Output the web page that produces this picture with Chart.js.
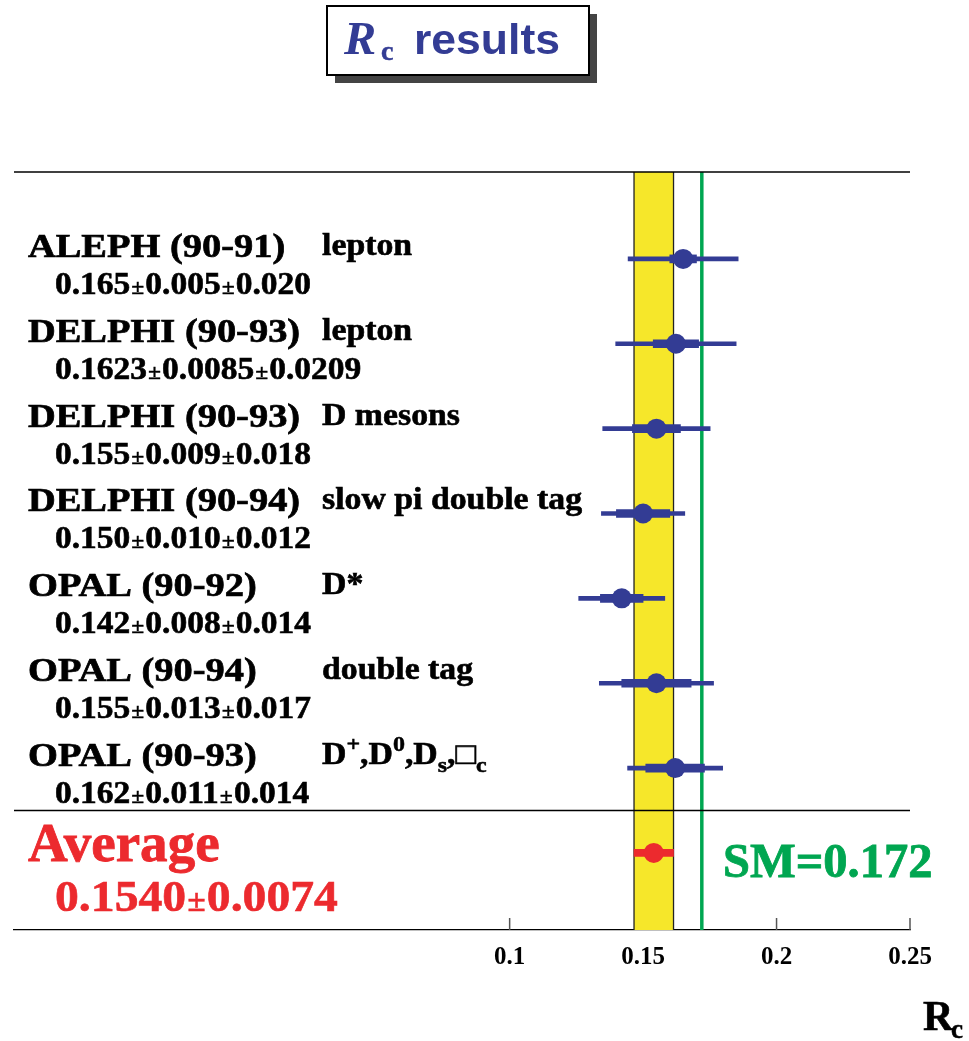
<!DOCTYPE html>
<html>
<head>
<meta charset="utf-8">
<title>Rc results</title>
<script src="https://cdn.jsdelivr.net/npm/chart.js@4"></script>
<style>
  html, body { margin: 0; padding: 0; background: #fff; }
  #wrap { width: 969px; height: 1041px; }
</style>
</head>
<body>
<div id="wrap"><canvas id="rcChart" width="969" height="1041"></canvas></div>
<script>
// measurements, top to bottom
const experiments = ["ALEPH (90-91)", "DELPHI (90-93)", "DELPHI (90-93)", "DELPHI (90-94)",
                     "OPAL (90-92)", "OPAL (90-94)", "OPAL (90-93)"];
const methods = ["lepton", "lepton", "D mesons", "slow pi double tag", "D*", "double tag",
                 "D^{+},D^{0},D_{s},□_{c}"];
const rcValues   = [0.165, 0.1623, 0.155, 0.150, 0.142, 0.155, 0.162];
const statErrors = [0.005, 0.0085, 0.009, 0.010, 0.008, 0.013, 0.011];
const systErrors = [0.020, 0.0209, 0.018, 0.012, 0.014, 0.017, 0.014];
const resultTexts = ["0.165±0.005±0.020", "0.1623±0.0085±0.0209", "0.155±0.009±0.018",
                     "0.150±0.010±0.012", "0.142±0.008±0.014", "0.155±0.013±0.017",
                     "0.162±0.011±0.014"];

const averageValue = 0.1540;
const averageError = 0.0074;
const averageText = "0.1540±0.0074";
const smValue = 0.172;
const xTicks = [0.1, 0.15, 0.2, 0.25];

const NAVY = "#333c94";
const RED = "#ec2a2e";
const GREEN = "#00a651";
const YELLOW = "#f6e72a";
const SERIF = "'Liberation Serif', 'Times New Roman', serif";
const SANS = "'Liberation Sans', Arial, sans-serif";

const rows = experiments.map((e, i) => i + 1);
const avgRow = experiments.length + 1;

// total error = stat and syst in quadrature
const totalBars = rcValues.map((v, i) => {
  const t = Math.hypot(statErrors[i], systErrors[i]);
  return { x: [v - t, v + t], y: rows[i] };
});
const statBars = rcValues.map((v, i) => ({ x: [v - statErrors[i], v + statErrors[i]], y: rows[i] }));
const points = rcValues.map((v, i) => ({ x: v, y: rows[i] }));

function drawText(ctx, s, x, y, font, color, sx, heavy) {
  ctx.save();
  ctx.font = font;
  ctx.fillStyle = color;
  ctx.textBaseline = "alphabetic";
  ctx.translate(x, y);
  ctx.scale(sx || 1, 1);
  ctx.fillText(s, 0, 0);
  if (heavy) {
    ctx.strokeStyle = color;
    ctx.lineWidth = heavy;
    ctx.strokeText(s, 0, 0);
  }
  const w = ctx.measureText(s).width * (sx || 1);
  ctx.restore();
  return w;
}

// text with ^{..} and _{..} parts
function drawRich(ctx, s, x, y, size, color, sx) {
  const re = /([\^_])\{([^}]*)\}|([^\^_]+)/g;
  let m;
  while ((m = re.exec(s)) !== null) {
    if (m[3]) {
      x += drawText(ctx, m[3], x, y, "bold " + size + "px " + SERIF, color, sx, 0.6);
    } else {
      const small = Math.round(size * 0.7);
      const dy = m[1] === "^" ? -size * 0.42 : size * 0.25;
      x += drawText(ctx, m[2], x, y + dy, "bold " + small + "px " + SERIF, color, sx, 0.5);
    }
  }
  return x;
}

// numbers with a smaller ± sign
function drawValue(ctx, s, x, y, size, color, sx) {
  const parts = s.split("±");
  parts.forEach((p, i) => {
    if (i > 0) {
      x += 1;
      x += drawText(ctx, "±", x, y, "bold " + Math.round(size * 0.72) + "px " + SERIF, color, sx, 0.3);
      x += 1;
    }
    x += drawText(ctx, p, x, y, "bold " + size + "px " + SERIF, color, sx, 0.6);
  });
}

const decor = {
  id: "rcDecor",
  beforeDatasetsDraw(chart) {
    const { ctx, chartArea: a, scales: { x, y } } = chart;
    ctx.save();
    // inward ticks
    ctx.strokeStyle = "#555";
    ctx.lineWidth = 1.5;
    x.ticks.forEach(t => {
      const px = x.getPixelForValue(t.value);
      ctx.beginPath(); ctx.moveTo(px, a.bottom); ctx.lineTo(px, a.bottom - 12); ctx.stroke();
    });
    // average band
    const b0 = x.getPixelForValue(averageValue - averageError);
    const b1 = x.getPixelForValue(averageValue + averageError);
    ctx.fillStyle = YELLOW;
    ctx.fillRect(b0, a.top, b1 - b0, a.bottom - a.top);
    ctx.strokeStyle = "#222";
    ctx.lineWidth = 1.3;
    [b0, b1].forEach(px => {
      ctx.beginPath(); ctx.moveTo(px, a.top); ctx.lineTo(px, a.bottom); ctx.stroke();
    });
    // standard model
    const sm = x.getPixelForValue(smValue);
    ctx.strokeStyle = GREEN;
    ctx.lineWidth = 3.5;
    ctx.beginPath(); ctx.moveTo(sm, a.top); ctx.lineTo(sm, a.bottom); ctx.stroke();
    // frame lines
    ctx.strokeStyle = "#000";
    ctx.lineWidth = 1.3;
    const sep = y.getPixelForValue(experiments.length + 0.5);
    [a.top, sep].forEach(py => {
      ctx.beginPath(); ctx.moveTo(a.left, py); ctx.lineTo(a.right, py); ctx.stroke();
    });
    ctx.restore();
  },
  afterDraw(chart) {
    const { ctx, scales: { x, y } } = chart;
    // title box
    ctx.save();
    ctx.fillStyle = "#444";
    ctx.fillRect(335, 14, 262, 69);
    ctx.fillStyle = "#fff";
    ctx.fillRect(327, 6, 262, 69);
    ctx.strokeStyle = "#000";
    ctx.lineWidth = 2;
    ctx.strokeRect(327, 6, 262, 69);
    ctx.restore();
    drawText(ctx, "R", 344, 54, "italic bold 46px " + SERIF, NAVY, 1.05);
    drawText(ctx, "c", 381, 60, "bold 28px " + SERIF, NAVY, 1, 0.5);
    drawText(ctx, "results", 414, 54, "bold 42px " + SANS, NAVY, 1.06);

    // labels per measurement
    experiments.forEach((name, i) => {
      const py = y.getPixelForValue(rows[i]);
      drawText(ctx, name, 28, py - 2, "bold 34px " + SERIF, "#000", 1.13, 0.7);
      drawRich(ctx, methods[i], 322, py - 4, 31, "#000", 1.09);
      drawValue(ctx, resultTexts[i], 55, py + 35, 31, "#000", 1.08);
    });

    // average
    const pa = y.getPixelForValue(avgRow);
    drawText(ctx, "Average", 28, pa + 8, "bold 54px " + SERIF, RED, 1.02, 0.8);
    drawValue(ctx, averageText, 55, pa + 58, 45, RED, 1.06);
    drawText(ctx, "SM=" + smValue, 723, pa + 24, "bold 48px " + SERIF, GREEN, 1.01, 0.8);

    // axis title
    drawText(ctx, "R", 923, 1030, "bold 42px " + SERIF, "#000", 1, 0.6);
    drawText(ctx, "c", 951, 1038, "bold 27px " + SERIF, "#000", 1, 0.5);
  }
};

new Chart("rcChart", {
  type: "scatter",
  data: {
    datasets: [
      {
        type: "scatter",
        data: points,
        backgroundColor: NAVY,
        borderWidth: 0,
        pointRadius: 10,
        order: 1
      },
      {
        type: "bar",
        indexAxis: "y",
        grouped: false,
        data: statBars,
        backgroundColor: NAVY,
        barThickness: 8,
        order: 2
      },
      {
        type: "bar",
        indexAxis: "y",
        grouped: false,
        data: totalBars,
        backgroundColor: NAVY,
        barThickness: 4,
        order: 3
      },
      {
        type: "scatter",
        data: [{ x: averageValue, y: avgRow }],
        backgroundColor: RED,
        borderWidth: 0,
        pointRadius: 10,
        order: 1
      },
      {
        type: "bar",
        indexAxis: "y",
        grouped: false,
        data: [{ x: [averageValue - averageError, averageValue + averageError], y: avgRow }],
        backgroundColor: RED,
        barThickness: 7,
        order: 2
      }
    ]
  },
  options: {
    responsive: false,
    animation: false,
    layout: { padding: { left: 14, right: 59, top: 172, bottom: 55 } },
    plugins: {
      legend: { display: false },
      tooltip: { enabled: false }
    },
    scales: {
      x: {
        type: "linear",
        min: -0.0857,
        max: 0.25,
        afterBuildTicks: s => { s.ticks = xTicks.map(v => ({ value: v })); },
        grid: { display: false, drawTicks: false },
        border: { display: true, color: "#000", width: 1.3 },
        ticks: {
          color: "#000",
          padding: 13,
          font: { family: SERIF, size: 25, weight: "bold" },
          callback: v => String(v)
        }
      },
      y: {
        type: "linear",
        display: false,
        reverse: true,
        offset: false,
        min: -0.024,
        max: 8.908
      }
    }
  },
  plugins: [decor]
});
</script>
</body>
</html>
